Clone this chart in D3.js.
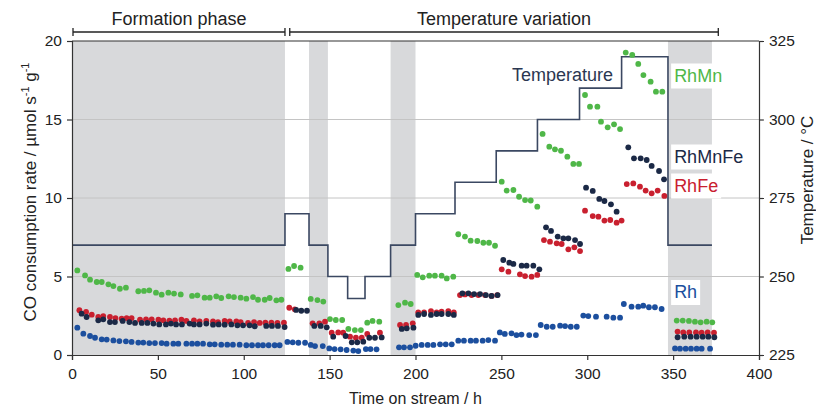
<!DOCTYPE html>
<html>
<head>
<meta charset="utf-8">
<script src="https://cdn.jsdelivr.net/npm/d3@7"></script>
<style>
  body{margin:0;background:#fff;}
  svg{display:block;font-family:"Liberation Sans",Arial,sans-serif;}
</style>
</head>
<body>
<svg id="chart" width="816" height="409"></svg>
<script>
// data: [time on stream / h, CO consumption rate]
const rhMn = [[3.1,5.39],[7.6,5.07],[10.5,4.80],[14.4,4.65],[17.3,4.65],[21.2,4.50],[24.1,4.39],[27.9,4.22],[31.4,4.29],[38.6,4.06],[41.9,4.08],[45.0,4.12],[48.9,3.97],[52.2,3.84],[56.1,3.97],[59.4,3.91],[63.3,3.86],[69.9,3.76],[73.0,3.80],[77.2,3.65],[80.2,3.65],[84.0,3.74],[86.9,3.63],[91.2,3.74],[94.3,3.69],[98.2,3.65],[101.5,3.59],[105.4,3.69],[108.3,3.52],[112.2,3.52],[115.1,3.63],[119.0,3.48],[121.9,3.52],
  [126.0,5.48],[129.3,5.67],[133.1,5.56],
  [139.0,3.57],[142.9,3.50],[146.3,3.40],
  [150.2,2.29],[153.6,2.23],[157.3,2.23],
  [160.9,1.66],[164.7,1.59],[168.2,1.59],
  [171.9,2.06],[175.0,2.17],[178.9,2.12],
  [190.0,3.18],[193.9,3.33],[197.2,3.25],
  [201.0,5.10],[204.2,4.95],[208.0,5.05],[211.3,5.05],[215.2,5.05],[218.2,4.88],[222.0,4.99],
  [224.9,7.69],[228.8,7.54],[232.1,7.28],[236.0,7.26],[239.5,7.15],[242.8,7.15],[246.3,6.96],
  [250.2,11.04],[253.1,10.47],[257.0,10.51],[260.3,10.08],[263.8,9.87],[267.1,9.84],[270.9,9.45],
  [274.0,14.08],[277.9,13.27],[281.2,13.10],[284.7,13.01],[288.4,12.63],[291.9,12.17],[295.2,12.17],
  [298.7,16.56],[301.6,15.82],[305.9,15.82],[308.0,14.86],[311.9,14.50],[315.6,14.69],[319.1,14.39],
  [322.4,19.26],[326.2,19.11],[329.7,18.54],[332.7,17.83],[336.9,17.41],[340.0,16.77],[343.7,16.77],
  [352.1,2.19],[355.6,2.19],[359.2,2.17],[362.7,2.12],[366.0,2.08],[369.5,2.12],[372.8,2.08]]

const rhMnFe = [[5.6,2.63],[8.5,2.42],[15.3,2.21],[18.2,2.27],[22.1,2.10],[25.0,2.10],[29.5,2.17],[33.4,2.10],[36.7,2.04],[40.6,2.04],[43.9,2.04],[47.4,2.00],[50.8,1.95],[54.7,1.95],[57.6,2.00],[60.6,1.95],[64.0,1.95],[68.5,2.00],[71.0,1.95],[74.3,1.95],[78.2,2.00],[82.1,1.93],[85.4,1.95],[88.9,1.93],[92.8,1.95],[96.3,1.89],[99.6,1.89],[103.4,1.89],[106.4,1.83],[113.1,1.85],[116.4,1.85],[119.9,1.85],[123.8,1.78],
  [130.5,2.87],[133.5,2.82],[136.8,2.82],
  [141.1,1.85],[144.8,1.85],[148.3,1.76],
  [152.1,1.17],[159.3,1.21],
  [162.9,0.81],[166.1,0.81],[169.6,0.85],
  [173.1,1.10],[176.4,1.10],[180.3,1.12],
  [192.0,1.66],[194.9,1.70],[198.8,1.74],
  [201.6,2.55],[205.0,2.61],[209.0,2.55],[212.3,2.61],[215.2,2.61],[219.1,2.61],[222.3,2.55],
  [227.3,3.93],[230.8,3.93],[234.1,3.88],[237.6,3.88],[241.0,3.82],[244.3,3.76],[247.8,3.82],
  [251.1,6.05],[254.6,5.88],[257.0,5.80],[261.8,5.69],[264.7,5.69],[268.6,5.69],[272.1,5.46],
  [276.0,8.13],[278.9,7.90],[282.8,7.54],[286.1,7.43],[289.0,7.43],[292.9,7.32],[295.8,7.07],
  [299.3,10.66],[303.2,10.45],[307.0,9.94],[310.0,9.81],[313.8,9.60],[317.1,9.13],
  [323.9,13.23],[327.2,12.53],[331.1,12.53],[334.6,12.42],[337.5,12.04],[341.8,11.72],[344.7,11.19],
  [352.6,1.13],[356.5,1.17],[360.2,1.17],[363.7,1.17],[367.2,1.17],[370.5,1.17],[374.0,1.13]]

const rhFe = [[4.3,2.85],[8.2,2.74],[11.5,2.57],[15.3,2.42],[18.2,2.48],[22.1,2.42],[25.3,2.35],[28.9,2.31],[31.8,2.35],[34.7,2.35],[39.6,2.25],[43.1,2.27],[46.4,2.27],[50.3,2.25],[53.2,2.21],[56.7,2.19],[60.0,2.21],[63.7,2.25],[66.6,2.17],[71.0,2.21],[74.3,2.14],[78.2,2.17],[82.1,2.14],[85.0,2.10],[88.9,2.17],[91.8,2.14],[95.7,2.14],[98.2,2.10],[102.5,2.04],[106.0,2.10],[109.3,2.04],[112.6,2.06],[116.1,2.06],[119.6,2.04],[123.4,2.06],
  [126.5,3.01],[129.7,2.91],
  [140.1,2.02],[144.0,2.02],[147.3,2.12],
  [151.2,1.42],[155.0,1.44],[157.9,1.42],
  [161.9,1.17],[165.3,1.10],[168.7,1.10],
  [171.9,1.34],[179.3,1.42],
  [191.0,1.91],[194.5,1.91],[198.4,2.02],
  [201.6,2.72],[205.0,2.72],[209.0,2.80],[212.3,2.72],[215.2,2.76],[219.1,2.80],[222.3,2.72],
  [225.9,3.82],[228.8,3.86],[232.7,3.82],[236.6,3.82],[240.5,3.82],[244.3,3.76],[247.6,3.82],
  [250.2,5.46],[254.1,5.31],[260.8,5.14],[263.8,5.03],[267.6,4.99],[270.9,5.10],
  [274.8,7.32],[278.3,7.22],[282.2,7.11],[285.1,7.07],[289.0,6.73],[292.5,6.86],[295.8,6.62],
  [298.7,9.19],[303.2,8.85],[306.5,8.81],[310.0,8.56],[313.4,8.60],[317.1,8.43],[320.0,8.56],
  [323.0,10.89],[326.8,10.93],[330.7,10.72],[334.0,10.47],[337.5,10.30],[341.0,10.47],[344.9,10.13],
  [352.6,1.49],[355.9,1.44],[359.4,1.44],[363.3,1.44],[366.6,1.42],[370.1,1.44],[373.8,1.42]]

const rh = [[3.1,1.74],[6.6,1.36],[10.5,1.21],[13.4,1.10],[17.3,1.00],[20.2,0.98],[24.1,0.93],[27.6,0.89],[31.4,0.87],[34.7,0.83],[38.6,0.79],[41.5,0.79],[45.0,0.76],[48.3,0.76],[52.2,0.76],[55.1,0.72],[59.0,0.72],[61.9,0.72],[66.6,0.72],[69.9,0.72],[73.0,0.72],[76.3,0.72],[80.2,0.68],[83.1,0.68],[86.9,0.66],[90.4,0.66],[93.7,0.66],[97.6,0.66],[101.5,0.62],[104.8,0.62],[108.3,0.62],[111.2,0.62],[114.5,0.62],[118.0,0.62],[120.9,0.62],
  [125.4,0.83],[128.5,0.81],[131.8,0.78],[135.7,0.78],
  [139.0,0.64],[141.5,0.57],[146.0,0.57],
  [149.8,0.42],[152.9,0.38],[156.4,0.36],[159.9,0.32],
  [163.8,0.28],[166.7,0.25],
  [171.1,0.38],[173.8,0.38],[177.3,0.36],
  [190.4,0.49],[193.3,0.49],[196.8,0.49],
  [200.1,0.59],[203.6,0.64],[207.1,0.64],[210.4,0.64],[214.3,0.68],[217.6,0.68],[221.1,0.68],
  [224.9,0.91],[228.2,0.91],[232.1,0.91],[235.2,0.91],[239.1,0.91],[242.4,0.95],[246.3,0.91],
  [249.1,1.44],[252.0,1.34],[255.9,1.38],[258.8,1.27],[261.7,1.30],[266.2,1.27],[270.1,1.27],
  [272.9,1.91],[276.4,1.80],[279.9,1.80],[284.2,1.87],[287.1,1.84],[290.4,1.80],[293.9,1.80],
  [297.7,2.51],[300.6,2.48],[305.1,2.44],[311.3,2.44],[315.2,2.38],[319.1,2.38],
  [321.3,3.25],[325.8,3.08],[329.7,3.08],[332.6,3.14],[335.9,3.04],[339.4,3.04],[343.3,2.93],
  [351.1,0.42],[354.0,0.40],[357.3,0.40],[360.4,0.40],[363.7,0.40],[366.6,0.40],[371.5,0.40]]

// temperature programme (step changes), right axis
const tempTimes = [0,124,138,149,160.5,170.6,185.5,200,223,247,271,295.5,320,347,372.6]
const tempValues = [260,270,260,250,243,250,260,270,280,290,300,310,320,260,260]

// grey shaded periods and phase brackets
const shadedPeriods = [[0,124],[138,149],[185.5,200],[347,372.6]]
const phaseNames = ['Formation phase','Temperature variation']
const phaseSpans = [[0,124],[126.2,376.3]]

const xTicks = [0,50,100,150,200,250,300,350,400]
const rateTicks = [0,5,10,15,20]
const tempTicks = [225,250,275,300,325]

const series = [
  {name:'RhMn', data:rhMn, color:'#4fb748'},
  {name:'Rh', data:rh, color:'#1c4f9e'},
  {name:'RhFe', data:rhFe, color:'#c9202f'},
  {name:'RhMnFe', data:rhMnFe, color:'#1b2946'}
]

//Setting up the chart
const svg = d3.select('#chart')
const margin = {top:41, bottom:54, left:72, right:57}
const width = +svg.attr('width')
const height = +svg.attr('height')
const visWidth = width - margin.left - margin.right
const visHeight = height - margin.top - margin.bottom

const xScale = d3.scaleLinear().domain([0,400]).range([0,visWidth])
const yScale = d3.scaleLinear().domain([0,20]).range([visHeight,0])
const tScale = d3.scaleLinear().domain([225,325]).range([visHeight,0])

const g = svg.append('g').attr('transform',`translate(${margin.left},${margin.top})`)

// shaded periods
g.selectAll('rect.shade')
  .data(shadedPeriods)
  .join('rect')
  .attr('class','shade')
  .attr('x', d => xScale(d[0]))
  .attr('width', d => xScale(d[1]) - xScale(d[0]))
  .attr('y',0)
  .attr('height',visHeight)
  .attr('fill','#d8d9db')

// grid lines
g.selectAll('line.grid')
  .data(rateTicks.filter(d => d > 0 && d < 20))
  .join('line')
  .attr('class','grid')
  .attr('x1',0).attr('x2',visWidth)
  .attr('y1', d => yScale(d)).attr('y2', d => yScale(d))
  .attr('stroke','#c4c4c4')
  .attr('stroke-width',1)

// temperature line
const tempPoints = tempTimes.map((t,i) => [t, tempValues[i]])
g.append('path')
  .datum(tempPoints)
  .attr('d', d3.line().x(d => xScale(d[0])).y(d => tScale(d[1])).curve(d3.curveStepAfter))
  .attr('fill','none')
  .attr('stroke','#3b4862')
  .attr('stroke-width',1.6)

// dots
series.forEach(s => {
  g.append('g')
    .selectAll('circle')
    .data(s.data)
    .join('circle')
    .attr('cx', d => xScale(d[0]))
    .attr('cy', d => yScale(d[1]))
    .attr('r',2.9)
    .attr('fill', s.color)
})

// series labels with white boxes
const labels = [
  {text:'RhMn', color:'#4fb748', y:81.5},
  {text:'RhMnFe', color:'#1b2946', y:162.5},
  {text:'RhFe', color:'#c9202f', y:191.5},
  {text:'Rh', color:'#1c4f9e', y:298}
]
labels.forEach(l => {
  const lg = svg.append('g')
  const t = lg.append('text')
    .attr('x', xScale(350) + margin.left + 1)
    .attr('y', l.y)
    .attr('font-size',18)
    .attr('fill', l.color)
    .text(l.text)
  const bb = t.node().getBBox()
  lg.insert('rect','text')
    .attr('x', bb.x - 3)
    .attr('y', bb.y - 2)
    .attr('width', bb.width + 6)
    .attr('height', bb.height + 5)
    .attr('fill','#fff')
})

svg.append('text')
  .attr('x',512)
  .attr('y',80.5)
  .attr('font-size',18)
  .attr('fill','#2b3751')
  .text('Temperature')

// frame and axes
g.append('line').attr('x1',0).attr('x2',visWidth).attr('y1',0).attr('y2',0)
  .attr('stroke','#333').attr('stroke-width',1.2)

const axisStyle = sel => {
  sel.selectAll('path,line').attr('stroke','#333').attr('stroke-width',1.2)
  sel.selectAll('text').attr('font-size',15.5).attr('fill','#222').attr('font-family','"Liberation Sans",Arial,sans-serif')
}

g.append('g').attr('transform',`translate(0,${visHeight})`)
  .call(d3.axisBottom(xScale).tickValues(xTicks).tickSizeOuter(0).tickSize(5).tickPadding(8))
  .call(axisStyle)

g.append('g')
  .call(d3.axisLeft(yScale).tickValues(rateTicks).tickSizeOuter(0).tickSize(5).tickPadding(5))
  .call(axisStyle)

g.append('g').attr('transform',`translate(${visWidth},0)`)
  .call(d3.axisRight(tScale).tickValues(tempTicks).tickSizeOuter(0).tickSize(5).tickPadding(5))
  .call(axisStyle)

// axis titles
svg.append('text')
  .attr('x', margin.left + visWidth/2)
  .attr('y',404)
  .attr('text-anchor','middle')
  .attr('font-size',16)
  .attr('fill','#222')
  .text('Time on stream / h')

const yTitle = svg.append('text')
  .attr('transform','translate(36,192) rotate(-90)')
  .attr('text-anchor','middle')
  .attr('font-size',17)
  .attr('fill','#222')
yTitle.append('tspan').text('CO consumption rate / µmol s')
yTitle.append('tspan').attr('dy',-7).attr('font-size',11).text('-1')
yTitle.append('tspan').attr('dy',7).text(' g')
yTitle.append('tspan').attr('dy',-7).attr('font-size',11).text('-1')

svg.append('text')
  .attr('transform','translate(813,180) rotate(-90)')
  .attr('text-anchor','middle')
  .attr('font-size',17)
  .attr('fill','#222')
  .text('Temperature / °C')

// phase brackets on top
const bracketY = 32
phaseSpans.forEach((p,i) => {
  const x1 = margin.left + xScale(p[0]) + 1
  const x2 = margin.left + xScale(p[1])
  const b = svg.append('g').attr('stroke','#222').attr('stroke-width',1.3)
  b.append('line').attr('x1',x1).attr('x2',x2).attr('y1',bracketY).attr('y2',bracketY)
  b.append('line').attr('x1',x1).attr('x2',x1).attr('y1',bracketY-4).attr('y2',bracketY+4)
  b.append('line').attr('x1',x2).attr('x2',x2).attr('y1',bracketY-4).attr('y2',bracketY+4)
  svg.append('text')
    .attr('x',(x1+x2)/2)
    .attr('y',25)
    .attr('text-anchor','middle')
    .attr('font-size',18)
    .attr('fill','#222')
    .text(phaseNames[i])
})
</script>
</body>
</html>
